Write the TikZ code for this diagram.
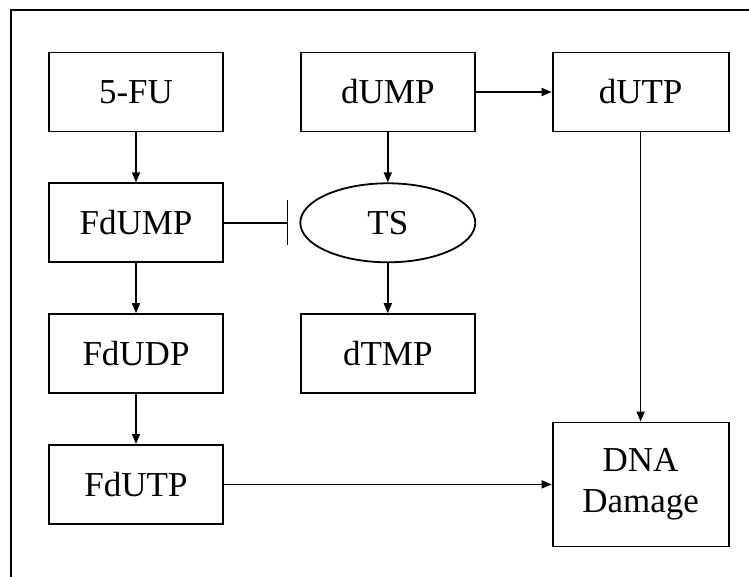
\documentclass[tikz,border=0pt]{standalone}
\usepackage{fontspec}
\setmainfont{Liberation Serif}
\usetikzlibrary{arrows.meta, positioning, shapes.geometric}

\begin{document}
\begin{tikzpicture}[x=1pt, y=-1pt, node distance=50pt and 76pt,
  block/.style={draw, line width=1.8pt, minimum width=174pt, minimum height=79pt,
                align=center, inner sep=0pt, font=\fontsize{35}{41}\selectfont},
  enzyme/.style={block, ellipse},
  arrow/.style={-{Triangle[length=10pt, width=8pt]}, line width=1.5pt},
  inhibit/.style={-{Bar[width=45pt, line width=1.5pt]}, line width=1.5pt, shorten >=11pt}]

  \useasboundingbox (0,0) rectangle (749,577);
  \draw[line width=1.6pt] (11,577) -- (11,10) -- (749,10);

  \node[block] (fu) at (136,92) {5-FU};
  \node[block, below=of fu]     (fdump) {FdUMP};
  \node[block, below=of fdump]  (fdudp) {FdUDP};
  \node[block, below=of fdudp]  (fdutp) {FdUTP};
  \node[block, right=of fu]     (dump)  {dUMP};
  \node[enzyme, below=of dump, minimum width=175pt] (ts) {TS};
  \node[block, below=of ts]     (dtmp)  {dTMP};
  \node[block, right=of dump, minimum width=176pt] (dutp) {dUTP};
  \node[block, minimum width=176pt, minimum height=124pt] (dna) at (dutp |- fdutp) {DNA\\Damage};

  \draw[arrow] (fu)    -- (fdump);
  \draw[arrow] (fdump) -- (fdudp);
  \draw[arrow] (fdudp) -- (fdutp);
  \draw[arrow] (dump)  -- (ts);
  \draw[arrow] (ts)    -- (dtmp);
  \draw[arrow] (dump)  -- (dutp);
  \draw[arrow] (dutp)  -- (dna);
  \draw[arrow] (fdutp) -- (dna);
  \draw[inhibit] (fdump) -- (ts);
\end{tikzpicture}
\end{document}
